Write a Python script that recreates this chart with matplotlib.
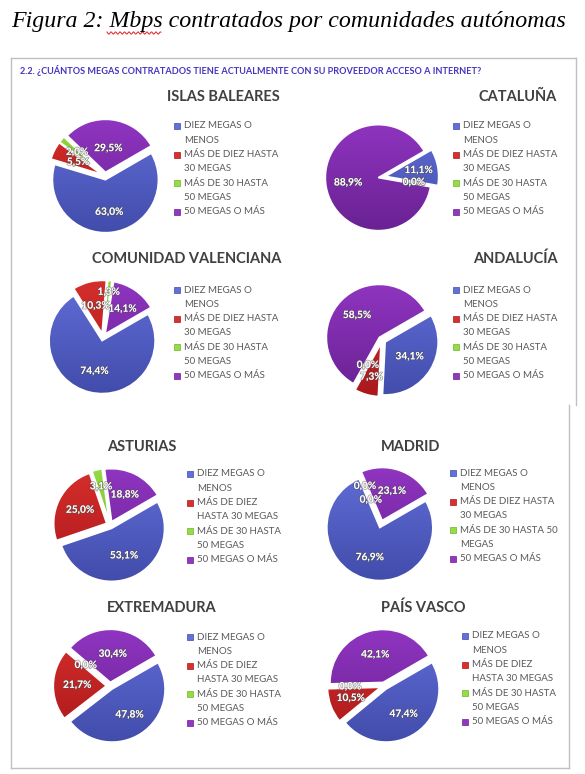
import numpy as np
import matplotlib
matplotlib.use("Agg")
import matplotlib.pyplot as plt
from matplotlib.colors import LinearSegmentedColormap
from matplotlib.lines import Line2D
from matplotlib.patches import Rectangle
import matplotlib.patheffects as pe

W, H = 585, 774

# data
regions = ["ISLAS BALEARES", "CATALUÑA", "COMUNIDAD VALENCIANA", "ANDALUCÍA",
           "ASTURIAS", "MADRID", "EXTREMADURA", "PAÍS VASCO"]
islas_baleares = [63.0, 5.5, 2.0, 29.5]
cataluna = [11.1, 0.0, 0.0, 88.9]
valenciana = [74.4, 10.3, 1.3, 14.1]
andalucia = [34.1, 7.3, 0.0, 58.5]
asturias = [53.1, 25.0, 3.1, 18.8]
madrid = [76.9, 0.0, 0.0, 23.1]
extremadura = [47.8, 21.7, 0.0, 30.4]
pais_vasco = [47.4, 10.5, 0.0, 42.1]
values = [islas_baleares, cataluna, valenciana, andalucia,
          asturias, madrid, extremadura, pais_vasco]

labels_a = ["DIEZ MEGAS O\nMENOS", "MÁS DE DIEZ HASTA\n30 MEGAS",
            "MÁS DE 30 HASTA\n50 MEGAS", "50 MEGAS O MÁS"]
labels_b = ["DIEZ MEGAS O\nMENOS", "MÁS DE DIEZ\nHASTA 30 MEGAS",
            "MÁS DE 30 HASTA\n50 MEGAS", "50 MEGAS O MÁS"]
labels_c = ["DIEZ MEGAS O\nMENOS", "MÁS DE DIEZ HASTA\n30 MEGAS",
            "MÁS DE 30 HASTA 50\nMEGAS", "50 MEGAS O MÁS"]
legend_labels = [labels_a, labels_a, labels_a, labels_a,
                 labels_b, labels_c, labels_b, labels_b]

fig_title = "Figura 2: Mbps contratados por comunidades autónomas"
question = "2.2. ¿CUÁNTOS MEGAS CONTRATADOS TIENE ACTUALMENTE CON SU PROVEEDOR ACCESO A INTERNET?"

# colours (light top -> dark bottom, like the Excel gradient)
light = ["#6470da", "#d8302c", "#96dc46", "#9236c4"]
dark = ["#3f4aa8", "#a8161a", "#6cb428", "#66208e"]

# layout, in pixels from top-left
pie_centers = [(105, 176), (382, 177), (103, 337), (382, 340),
               (110, 525), (381, 524), (110, 686), (384, 686)]
R = 53
titles_pos = [(280, 97, "right"), (557, 97, "right"), (281, 259, "right"), (558, 259, "right"),
              (107, 447, "left"), (381, 447, "left"), (107, 608, "left"), (381, 608, "left")]
legend_pos = [(177, 126), (456, 126), (177, 290), (456, 290),
              (190, 474), (453, 473), (190, 637), (465, 636)]
step = 14.3
label_r = [[0.62, 0.5, 0.62, 0.45], [0.63, 0.54, 0.54, 0.58],
           [0.6, 0.53, 0.78, 0.57], [0.54, 0.66, 0.48, 0.59],
           [0.57, 0.56, 0.67, 0.56], [0.6, 0.7, 0.42, 0.58],
           [0.59, 0.55, 0.53, 0.53], [0.58, 0.6, 0.57, 0.54]]

fig = plt.figure(figsize=(W / 100, H / 100), dpi=100)
fig.patch.set_facecolor("white")


def fx(x):
    return x / W


def fy(y):
    return 1 - y / H


# page title with the spell-check squiggle under "Mbps"
fig.text(fx(11), fy(22), fig_title, fontfamily="Liberation Serif", fontstyle="italic",
         fontsize=17.2, va="center", ha="left", color="black")
sx = np.linspace(107, 161, 60)
fig.add_artist(Line2D(fx(sx), fy(33 + 1.2 * np.sin(sx * 1.4)), color="#e02020", lw=0.7))

# frame of the pasted excel charts
frame = "#c0c0c0"
fig.add_artist(Line2D([fx(11), fx(576)], [fy(58), fy(58)], color=frame, lw=1))
fig.add_artist(Line2D([fx(11), fx(11)], [fy(58), fy(768)], color=frame, lw=1))
fig.add_artist(Line2D([fx(576), fx(576)], [fy(58), fy(405)], color=frame, lw=1))
fig.add_artist(Line2D([fx(569), fx(569)], [fy(405), fy(768)], color=frame, lw=1))
fig.add_artist(Line2D([fx(11), fx(569)], [fy(768), fy(768)], color=frame, lw=1))

fig.text(fx(20), fy(71), question, fontfamily="Lato", fontweight="bold",
         fontsize=6.6, color="#4535c0", va="center", ha="left")

grad = np.linspace(0, 1, 256).reshape(-1, 1)

for i, vals in enumerate(values):
    cx, cy = pie_centers[i]
    side = 2.3 * R
    ax = fig.add_axes([fx(cx - side / 2), fy(cy + side / 2), side / W, side / H])
    wedges, _ = ax.pie(vals, startangle=30, counterclock=False,
                       explode=[0.07] * 4, colors=light,
                       wedgeprops=dict(linewidth=1.2, edgecolor="white"))
    for k, w in enumerate(wedges):
        cmap = LinearSegmentedColormap.from_list("g", [dark[k], light[k]])
        im = ax.imshow(grad, cmap=cmap, extent=[-1.2, 1.2, -1.2, 1.2],
                       origin="lower", aspect="auto", zorder=w.get_zorder() + 0.1)
        im.set_clip_path(w)
        w.set_zorder(w.get_zorder() + 0.2)
        w.set_facecolor("none")
    # percentage labels, placed along each slice's middle angle
    start = 30.0
    for k, v in enumerate(vals):
        mid = np.deg2rad(start - v * 3.6 / 2)
        start -= v * 3.6
        r = label_r[i][k] + 0.07
        ax.text(r * np.cos(mid), r * np.sin(mid), f"{v:.1f}".replace(".", ",") + "%",
                ha="center", va="center", fontsize=7.3, fontweight="bold",
                fontfamily="Lato", color="white", zorder=10,
                path_effects=[pe.withStroke(linewidth=1.2, foreground="#50505080")])
    ax.set_xlim(-1.15, 1.15)
    ax.set_ylim(-1.15, 1.15)
    ax.set_aspect("equal")

    tx, ty, ha = titles_pos[i]
    fig.text(fx(tx), fy(ty), regions[i], fontfamily="Lato", fontweight="bold",
             fontsize=10.5, color="#404040", ha=ha, va="center")

    lx, ly = legend_pos[i]
    line = 0
    for k, lab in enumerate(legend_labels[i]):
        yy = ly + line * step
        fig.add_artist(Rectangle((fx(lx - 3), fy(yy + 3)), 6 / W, 6 / H,
                                 transform=fig.transFigure, facecolor=light[k],
                                 edgecolor=dark[k], lw=0.5))
        for j, part in enumerate(lab.split("\n")):
            fig.text(fx(lx + 7), fy(ly + (line + j) * step), part, fontfamily="Lato",
                     fontsize=7, color="#595959", ha="left", va="center")
        line += len(lab.split("\n"))

fig.savefig("out.png", dpi=100, facecolor="white")
